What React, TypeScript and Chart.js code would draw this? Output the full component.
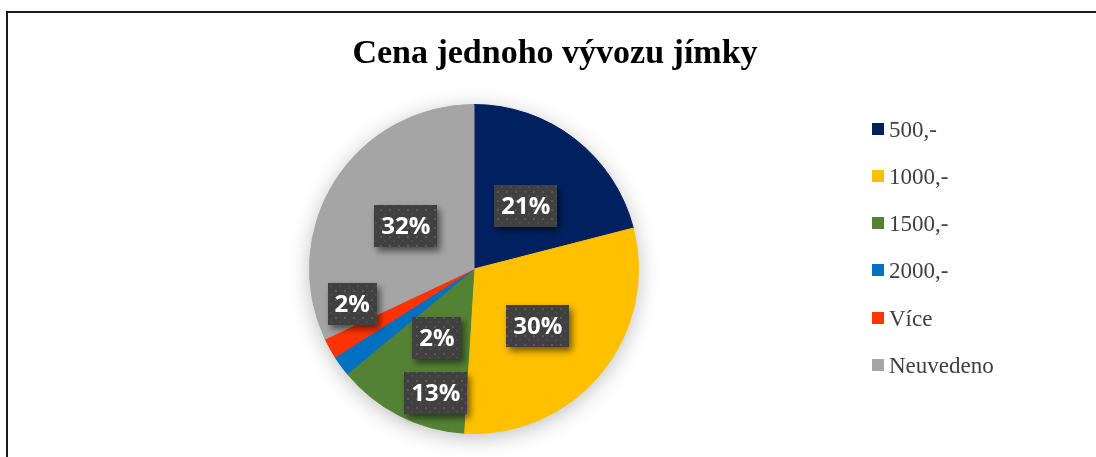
import React, { useEffect, useRef } from "react";
import { Chart, registerables } from "chart.js";

Chart.register(...registerables);

const TITLE = "Cena jednoho vývozu jímky";
const categories = ["500,-", "1000,-", "1500,-", "2000,-", "Více", "Neuvedeno"];
const shares = [21, 30, 13, 2, 2, 32];
const sliceColors = ["#002060", "#FFC000", "#548235", "#0070C0", "#FF3300", "#A5A5A5"];

// label placement relative to each slice: radius fraction and angular shift (deg) from slice middle
const labelPlacement = [
  { r: 0.495, shift: 1.7 },
  { r: 0.52, shift: 2.1 },
  { r: 0.79, shift: -9.9 },
  { r: 0.475, shift: -25.6 },
  { r: 0.77, shift: 12.8 },
  { r: 0.49, shift: -0.3 },
];

function makePattern(ctx: CanvasRenderingContext2D) {
  const c = document.createElement("canvas");
  c.width = 9;
  c.height = 9;
  const p = c.getContext("2d")!;
  p.fillStyle = "#404040";
  p.fillRect(0, 0, 9, 9);
  p.fillStyle = "#595959";
  p.fillRect(2, 2, 2, 2);
  p.fillStyle = "#4c4c4c";
  p.fillRect(6, 6, 2, 2);
  return ctx.createPattern(c, "repeat");
}

const decorPlugin = {
  id: "decor",
  beforeDraw(chart: any) {
    const ctx = chart.ctx;
    ctx.save();
    ctx.fillStyle = "#ffffff";
    ctx.fillRect(0, 0, chart.width, chart.height);
    ctx.strokeStyle = "#1a1a1a";
    ctx.lineWidth = 2;
    ctx.strokeRect(7, 12, chart.width + 20, chart.height + 20);
    ctx.restore();
  },
  beforeDatasetsDraw(chart: any) {
    const meta = chart.getDatasetMeta(0);
    const arc = meta.data[0];
    if (!arc) return;
    const ctx = chart.ctx;
    ctx.save();
    ctx.shadowColor = "rgba(0,0,0,0.28)";
    ctx.shadowBlur = 22;
    ctx.shadowOffsetX = 0;
    ctx.shadowOffsetY = 4;
    ctx.fillStyle = "#999";
    ctx.beginPath();
    ctx.arc(arc.x, arc.y, arc.outerRadius - 1, 0, Math.PI * 2);
    ctx.fill();
    ctx.restore();
  },
  afterDatasetsDraw(chart: any) {
    const ctx = chart.ctx;
    const meta = chart.getDatasetMeta(0);
    const pattern = makePattern(ctx);
    ctx.save();
    ctx.font = "bold 24px 'Open Sans'";
    ctx.textAlign = "center";
    ctx.textBaseline = "middle";
    meta.data.forEach((arc: any, i: number) => {
      const place = labelPlacement[i];
      const mid = (arc.startAngle + arc.endAngle) / 2 + (place.shift * Math.PI) / 180;
      const cx = arc.x + Math.cos(mid) * arc.outerRadius * place.r;
      const cy = arc.y + Math.sin(mid) * arc.outerRadius * place.r;
      const text = shares[i] + "%";
      const w = ctx.measureText(text).width + 14;
      const h = 42;
      ctx.save();
      ctx.shadowColor = "rgba(0,0,0,0.55)";
      ctx.shadowBlur = 7;
      ctx.shadowOffsetX = 3;
      ctx.shadowOffsetY = 4;
      ctx.fillStyle = pattern || "#404040";
      ctx.fillRect(Math.round(cx - w / 2), Math.round(cy - h / 2), Math.round(w), h);
      ctx.restore();
      ctx.fillStyle = "#ffffff";
      ctx.fillText(text, cx, cy + 1);
    });
    ctx.restore();
  },
  afterDraw(chart: any) {
    const ctx = chart.ctx;
    ctx.save();
    // title
    ctx.fillStyle = "#000000";
    ctx.font = "bold 34px 'Liberation Serif'";
    ctx.textAlign = "center";
    ctx.textBaseline = "alphabetic";
    ctx.fillText(TITLE, 555, 63);
    // legend
    ctx.font = "23px 'Liberation Serif'";
    ctx.textAlign = "left";
    const labels = chart.data.labels as string[];
    const colors = chart.data.datasets[0].backgroundColor as string[];
    labels.forEach((lab, i) => {
      const cy = 128.5 + i * 47.25;
      ctx.fillStyle = colors[i];
      ctx.fillRect(872, Math.round(cy - 6), 12, 12);
      ctx.fillStyle = "#404040";
      ctx.fillText(lab, 889, cy + 8);
    });
    ctx.restore();
  },
};

export default function App() {
  const ref = useRef<HTMLCanvasElement>(null);
  useEffect(() => {
    document.body.style.margin = "0";
    const chart = new Chart(ref.current!, {
      type: "pie",
      data: {
        labels: categories,
        datasets: [
          {
            data: shares,
            backgroundColor: sliceColors,
            borderColor: sliceColors,
            borderWidth: 1,
          },
        ],
      },
      options: {
        responsive: false,
        animation: false,
        events: [],
        layout: { padding: { left: 309, right: 457, top: 104, bottom: 23 } },
        plugins: {
          legend: { display: false },
          title: { display: false },
          tooltip: { enabled: false },
        },
      },
      plugins: [decorPlugin],
    });
    return () => chart.destroy();
  }, []);
  return (
    <div style={{ position: "absolute", left: 0, top: 0, width: 1096, height: 457 }}>
      <canvas ref={ref} width={1096} height={457} />
    </div>
  );
}
